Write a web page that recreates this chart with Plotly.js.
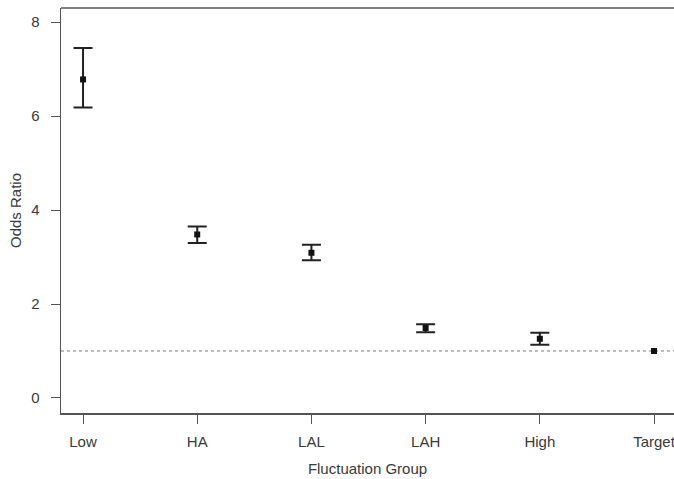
<!DOCTYPE html>
<html>
<head>
<meta charset="utf-8">
<script src="https://cdn.plot.ly/plotly-3.0.1.min.js"></script>
<style>html,body{margin:0;padding:0;background:#fff;}#chart{width:674px;height:479px;}</style>
</head>
<body>
<div id="chart"></div>
<script>
const groups = ["Low", "HA", "LAL", "LAH", "High", "Target"];
const positions = [1, 2, 3, 4, 5, 6];
const oddsRatio = [6.78, 3.48, 3.09, 1.49, 1.26, 1.0];
const upperCI = [7.45, 3.65, 3.26, 1.57, 1.39, null];
const lowerCI = [6.18, 3.30, 2.93, 1.40, 1.13, null];
const referenceLevel = 1;
const yTicks = [0, 2, 4, 6, 8];

const errPlus = oddsRatio.map((v, i) => upperCI[i] === null ? NaN : upperCI[i] - v);
const errMinus = oddsRatio.map((v, i) => lowerCI[i] === null ? NaN : v - lowerCI[i]);

const font = {family: "Liberation Sans, Arial, sans-serif", size: 15, color: "#3a3a3a"};

const trace = {
  x: positions,
  y: oddsRatio,
  type: "scatter",
  mode: "markers",
  marker: {symbol: "square", size: 6, color: "#111"},
  error_y: {
    type: "data", symmetric: false,
    array: errPlus, arrayminus: errMinus,
    color: "#222", thickness: 2, width: 9.5
  },
  hoverinfo: "skip"
};

const layout = {
  width: 674, height: 479,
  margin: {l: 61, r: 0, t: 8, b: 66},
  paper_bgcolor: "#fff", plot_bgcolor: "#fff",
  showlegend: false,
  font: font,
  xaxis: {
    range: [0.807, 6.175],
    tickvals: positions, ticktext: groups,
    showgrid: false, zeroline: false,
    showline: true, linecolor: "#555", linewidth: 1.5,
    ticks: "outside", ticklen: 9, tickcolor: "#555", tickwidth: 1,
    tickfont: font, ticklabelstandoff: 5, ticklabeloverflow: "allow",
    automargin: false,
    title: {text: "Fluctuation Group", font: font, standoff: 15}
  },
  yaxis: {
    range: [-0.32, 8.30],
    tickvals: yTicks,
    ticksuffix: "\u00a0",
    showgrid: false, zeroline: false,
    showline: true, linecolor: "#555", linewidth: 1.5,
    ticks: "outside", ticklen: 9, tickcolor: "#555", tickwidth: 1,
    tickfont: font, ticklabelstandoff: 8,
    automargin: false,
    title: {text: "Odds Ratio", font: font, standoff: 6}
  },
  shapes: [
    {type: "line", xref: "paper", yref: "y", x0: 0, x1: 1, y0: referenceLevel, y1: referenceLevel,
     line: {color: "#777", width: 1, dash: "dot"}, layer: "below"},
    {type: "line", xref: "paper", yref: "paper", x0: 0, x1: 1, y0: 1, y1: 1,
     line: {color: "#555", width: 1.5}}
  ]
};

Plotly.newPlot("chart", [trace], layout, {displayModeBar: false, staticPlot: true});
</script>
</body>
</html>
